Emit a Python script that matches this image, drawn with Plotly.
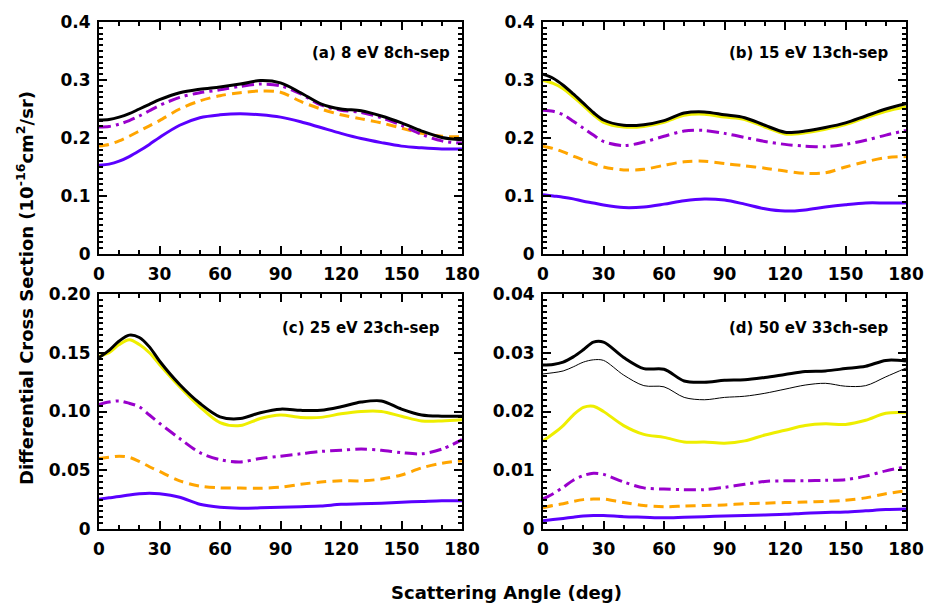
import plotly.graph_objects as go

angles = [0, 5, 10, 15, 20, 25, 30, 40, 50, 60, 70, 80, 90, 100, 110, 120, 130, 140, 150, 160, 170, 180]

# (a) 8 eV
a_black = [0.231, 0.232, 0.236, 0.242, 0.250, 0.258, 0.266, 0.278, 0.284, 0.288, 0.293, 0.299, 0.295, 0.278, 0.259, 0.250, 0.247, 0.238, 0.226, 0.212, 0.201, 0.197]
a_purple = [0.219, 0.220, 0.224, 0.230, 0.238, 0.247, 0.256, 0.270, 0.278, 0.283, 0.289, 0.293, 0.290, 0.276, 0.257, 0.248, 0.244, 0.235, 0.222, 0.206, 0.195, 0.191]
a_orange = [0.186, 0.189, 0.195, 0.203, 0.212, 0.221, 0.230, 0.250, 0.264, 0.273, 0.278, 0.281, 0.279, 0.263, 0.250, 0.240, 0.233, 0.226, 0.217, 0.208, 0.203, 0.202]
a_blue = [0.153, 0.155, 0.160, 0.168, 0.178, 0.189, 0.201, 0.222, 0.235, 0.240, 0.242, 0.240, 0.236, 0.228, 0.218, 0.208, 0.199, 0.192, 0.186, 0.183, 0.181, 0.181]

# (b) 15 eV
b_black = [0.310, 0.303, 0.291, 0.276, 0.260, 0.244, 0.231, 0.222, 0.223, 0.230, 0.243, 0.245, 0.240, 0.235, 0.222, 0.210, 0.212, 0.218, 0.226, 0.238, 0.250, 0.259]
b_yellow = [0.299, 0.294, 0.285, 0.271, 0.256, 0.240, 0.227, 0.219, 0.220, 0.227, 0.239, 0.241, 0.236, 0.232, 0.219, 0.207, 0.209, 0.215, 0.223, 0.235, 0.246, 0.254]
b_purple = [0.248, 0.246, 0.240, 0.229, 0.217, 0.205, 0.194, 0.187, 0.193, 0.203, 0.212, 0.213, 0.208, 0.201, 0.194, 0.189, 0.186, 0.185, 0.189, 0.196, 0.205, 0.213]
b_orange = [0.186, 0.182, 0.176, 0.169, 0.162, 0.156, 0.150, 0.145, 0.146, 0.153, 0.159, 0.160, 0.156, 0.152, 0.148, 0.143, 0.139, 0.140, 0.150, 0.159, 0.166, 0.168]
b_blue = [0.102, 0.100, 0.098, 0.095, 0.091, 0.088, 0.0845, 0.080, 0.081, 0.086, 0.092, 0.095, 0.093, 0.086, 0.078, 0.074, 0.076, 0.081, 0.085, 0.088, 0.088, 0.088]

# (c) 25 eV
c_black = [0.146, 0.152, 0.160, 0.165, 0.163, 0.155, 0.143, 0.123, 0.107, 0.0955, 0.094, 0.099, 0.102, 0.101, 0.101, 0.104, 0.108, 0.109, 0.102, 0.097, 0.096, 0.096]
c_yellow = [0.147, 0.150, 0.157, 0.161, 0.157, 0.150, 0.140, 0.121, 0.104, 0.0905, 0.088, 0.094, 0.097, 0.095, 0.095, 0.098, 0.100, 0.100, 0.096, 0.092, 0.092, 0.093]
c_purple = [0.106, 0.108, 0.109, 0.107, 0.104, 0.097, 0.090, 0.077, 0.065, 0.059, 0.057, 0.060, 0.062, 0.064, 0.066, 0.067, 0.068, 0.067, 0.065, 0.064, 0.068, 0.076]
c_orange = [0.060, 0.061, 0.062, 0.061, 0.0575, 0.053, 0.049, 0.041, 0.0365, 0.035, 0.0348, 0.0347, 0.0356, 0.038, 0.040, 0.041, 0.041, 0.0425, 0.046, 0.052, 0.056, 0.058]
c_blue = [0.0254, 0.0265, 0.0276, 0.029, 0.030, 0.0305, 0.030, 0.027, 0.021, 0.0185, 0.0177, 0.018, 0.0186, 0.019, 0.0195, 0.021, 0.0215, 0.022, 0.0228, 0.0234, 0.024, 0.024]

# (d) 50 eV
d_black = [0.0279, 0.0280, 0.0284, 0.0293, 0.0305, 0.0318, 0.0318, 0.0292, 0.0273, 0.0272, 0.0252, 0.0250, 0.0253, 0.0254, 0.0258, 0.0263, 0.0268, 0.0269, 0.0273, 0.0277, 0.0287, 0.0286]
d_thin = [0.0264, 0.0266, 0.0269, 0.0276, 0.0284, 0.0288, 0.0287, 0.0262, 0.0244, 0.0242, 0.0224, 0.0220, 0.0224, 0.0226, 0.0231, 0.0238, 0.0245, 0.0248, 0.0243, 0.0244, 0.0259, 0.0274]
d_yellow = [0.0150, 0.0162, 0.0176, 0.0194, 0.0207, 0.0209, 0.0200, 0.0176, 0.0161, 0.0156, 0.0148, 0.0148, 0.0146, 0.0150, 0.0160, 0.0168, 0.0176, 0.0179, 0.0178, 0.0185, 0.0197, 0.0198]
d_purple = [0.0051, 0.0060, 0.0071, 0.0083, 0.0091, 0.0095, 0.0093, 0.0080, 0.0070, 0.0068, 0.0067, 0.0067, 0.0071, 0.0076, 0.0081, 0.0082, 0.0082, 0.0083, 0.0084, 0.0090, 0.0099, 0.0106]
d_orange = [0.0036, 0.0040, 0.0043, 0.0047, 0.0050, 0.0051, 0.0051, 0.0045, 0.0040, 0.0038, 0.0039, 0.0040, 0.0041, 0.0043, 0.0044, 0.0045, 0.0046, 0.0047, 0.0049, 0.0053, 0.0060, 0.0065]
d_blue = [0.0014, 0.0016, 0.0018, 0.0020, 0.0022, 0.0023, 0.0023, 0.0021, 0.0020, 0.0019, 0.0020, 0.0021, 0.0022, 0.0023, 0.0024, 0.0025, 0.0027, 0.0028, 0.0029, 0.0031, 0.0033, 0.0034]

panel_labels = ["(a) 8 eV 8ch-sep", "(b) 15 eV 13ch-sep", "(c) 25 eV 23ch-sep", "(d) 50 eV 33ch-sep"]
x_ticks = [0, 30, 60, 90, 120, 150, 180]
yt_ab = [0, 0.1, 0.2, 0.3, 0.4]
yl_ab = ["0", "0.1", "0.2", "0.3", "0.4"]
yt_c = [0, 0.05, 0.10, 0.15, 0.20]
yl_c = ["0", "0.05", "0.10", "0.15", "0.20"]
yt_d = [0, 0.01, 0.02, 0.03, 0.04]
yl_d = ["0", "0.01", "0.02", "0.03", "0.04"]

BLACK = "#000000"
YELLOW = "#eeee00"
PURPLE = "#9900cc"
ORANGE = "#ffa500"
BLUE = "#5a00ff"

styles = {
    "black": dict(color=BLACK, width=3),
    "thin": dict(color=BLACK, width=1),
    "yellow": dict(color=YELLOW, width=3),
    "purple": dict(color=PURPLE, width=3, dash="12px,5px,3px,5px"),
    "orange": dict(color=ORANGE, width=3, dash="10px,6px"),
    "blue": dict(color=BLUE, width=3),
}

panels = [
    ("x", "y", [("blue", a_blue), ("orange", a_orange), ("purple", a_purple), ("black", a_black)]),
    ("x2", "y2", [("blue", b_blue), ("orange", b_orange), ("purple", b_purple), ("yellow", b_yellow), ("black", b_black)]),
    ("x3", "y3", [("blue", c_blue), ("orange", c_orange), ("purple", c_purple), ("yellow", c_yellow), ("black", c_black)]),
    ("x4", "y4", [("blue", d_blue), ("orange", d_orange), ("purple", d_purple), ("yellow", d_yellow), ("thin", d_thin), ("black", d_black)]),
]

fig = go.Figure()
for xa, ya, curves in panels:
    for key, vals in curves:
        fig.add_trace(go.Scatter(x=angles, y=vals, mode="lines", xaxis=xa, yaxis=ya,
                                 line=dict(shape="spline", smoothing=0.9, **styles[key]),
                                 showlegend=False, hoverinfo="skip"))

W, H = 926, 603
def xd(l, r):
    return [l / W, r / W]
def yd(t, b):
    return [1 - b / H, 1 - t / H]

tickfont = dict(family="DejaVu Sans", size=17, color="black", weight="bold")

def xaxis(dom, anchor):
    return dict(domain=dom, anchor=anchor, range=[0, 180], tickvals=x_ticks, automargin=False,
                showline=True, linecolor="black", linewidth=2, mirror="allticks",
                ticks="inside", ticklen=8, tickwidth=2, tickcolor="black",
                minor=dict(dtick=10, ticks="inside", ticklen=4, tickwidth=1.5, tickcolor="black"),
                showgrid=False, zeroline=False, tickfont=tickfont, ticklabelstandoff=4)

def yaxis(dom, anchor, rng, tv, tl, minor):
    return dict(domain=dom, anchor=anchor, range=rng, tickvals=tv, ticktext=tl, automargin=False,
                showline=True, linecolor="black", linewidth=2, mirror="allticks",
                ticks="inside", ticklen=8, tickwidth=2, tickcolor="black",
                minor=dict(dtick=minor, tick0=0, ticks="inside", ticklen=4, tickwidth=1.5, tickcolor="black"),
                showgrid=False, zeroline=False, tickfont=tickfont, ticklabelstandoff=3)

top = yd(22, 254)
bot = yd(294, 529)
left = xd(99, 462)
right = xd(543, 906)

fig.update_layout(
    template="none",
    width=W, height=H, autosize=False,
    margin=dict(l=0, r=0, t=0, b=0, pad=0),
    paper_bgcolor="white", plot_bgcolor="white",
    xaxis=xaxis(left, "y"), yaxis=yaxis(top, "x", [0, 0.4], yt_ab, yl_ab, 0.01),
    xaxis2=xaxis(right, "y2"), yaxis2=yaxis(top, "x2", [0, 0.4], yt_ab, yl_ab, 0.01),
    xaxis3=xaxis(left, "y3"), yaxis3=yaxis(bot, "x3", [0, 0.2], yt_c, yl_c, 0.005),
    xaxis4=xaxis(right, "y4"), yaxis4=yaxis(bot, "x4", [0, 0.04], yt_d, yl_d, 0.001),
)

lblfont = dict(family="DejaVu Sans", size=15, color="black", weight="bold")
label_pos = [(452, 53), (891, 53), (442, 328), (891, 328)]
for txt, (px, py) in zip(panel_labels, label_pos):
    fig.add_annotation(x=px / W, y=1 - py / H, xref="paper", yref="paper", text=txt,
                       showarrow=False, xanchor="right", yanchor="middle", font=lblfont)

titlefont = dict(family="DejaVu Sans", size=18, color="black", weight="bold")
fig.add_annotation(x=25 / W, y=1 - 288 / H, xref="paper", yref="paper",
                   text="Differential Cross Section (10<sup>-16</sup>cm<sup>2</sup>/sr)",
                   textangle=-90, showarrow=False, xanchor="center", yanchor="middle", font=titlefont)
fig.add_annotation(x=506 / W, y=1 - 592 / H, xref="paper", yref="paper",
                   text="Scattering Angle (deg)", showarrow=False,
                   xanchor="center", yanchor="middle", font=titlefont)

fig.write_html("out.html")
